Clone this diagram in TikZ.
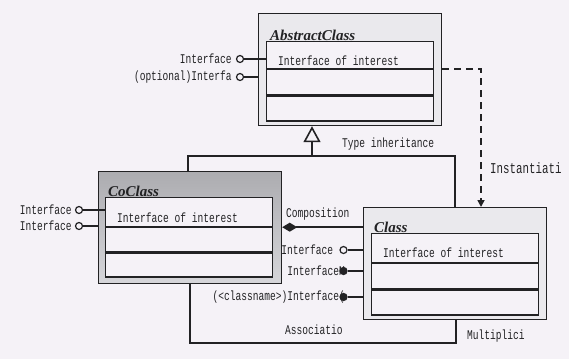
\documentclass[tikz,border=0pt]{standalone}
\usepackage{fontspec}
\setmainfont{Liberation Serif}
\setmonofont{Liberation Mono}[FakeStretch=0.72]
\usetikzlibrary{arrows.meta,positioning}
\definecolor{paper}{RGB}{245,242,247}
\definecolor{ink}{RGB}{34,34,36}
\definecolor{boxgray}{RGB}{234,233,237}
\definecolor{cogray}{RGB}{172,172,176}
\definecolor{colight}{RGB}{214,214,218}

\begin{document}
\begin{tikzpicture}[x=1pt, y=-1pt, ink, font=\ttfamily\fontsize{13.3}{13.3}\selectfont,
    shell/.style={draw=ink, line width=1.2pt, anchor=north west, inner sep=0pt,
                  minimum width=183pt, minimum height=112pt},
    slot/.style={draw=ink, line width=1.2pt, fill=paper, anchor=north west,
                 inner sep=0pt, minimum width=167pt},
    cname/.style={font=\rmfamily\bfseries\itshape\fontsize{15}{15}\selectfont,
                  anchor=base west, inner sep=0pt},
    oper/.style={anchor=base west, inner sep=0pt},
    lbl/.style={inner sep=0pt},
    lolli/.style={circle, draw=ink, line width=1.2pt, fill=paper, inner sep=0pt, minimum size=7pt},
    sock/.style={lolli, fill=ink},
    wire/.style={line width=1.6pt}]
  \fill[paper] (0,0) rectangle (569,359);
  \useasboundingbox (0,0) rectangle (569,359);

  % AbstractClass
  \node[shell, fill=boxgray] (absbox) at (258,13) {};
  \node[slot, minimum height=27pt] (abs1) at (266,41) {};
  \node[slot, minimum height=25pt, below=0pt of abs1] (abs2) {};
  \node[slot, minimum height=25pt, below=0pt of abs2] (abs3) {};
  \node[cname] (absname) at (270,40) {AbstractClass};
  \node[oper] (absop) at (278,65) {Interface of interest};

  % CoClass
  \node[shell, top color=cogray, bottom color=colight] (cobox) at (98,171) {};
  \node[slot, minimum height=29pt] (co1) at (105,197) {};
  \node[slot, minimum height=24pt, below=0pt of co1] (co2) {};
  \node[slot, minimum height=24pt, below=0pt of co2] (co3) {};
  \node[cname] (coname) at (108,196) {CoClass};
  \node[oper] (coop) at (117,222) {Interface of interest};

  % Class
  \node[shell, fill=boxgray] (clsbox) at (363,207) {};
  \node[slot, minimum height=29pt] (cls1) at (371,233) {};
  \node[slot, minimum height=25pt, below=0pt of cls1] (cls2) {};
  \node[slot, minimum height=25pt, below=0pt of cls2] (cls3) {};
  \node[cname] (clsname) at (374,232) {Class};
  \node[oper] (clsop) at (383,257) {Interface of interest};

  % interfaces
  \node[lolli] (ai1) at (240,59) {};
  \node[lbl, left=4pt of ai1] (ai1t) {Interface};
  \draw[wire] (ai1) -- (ai1 -| abs1.west);
  \node[lolli] (ai2) at (240,77) {};
  \node[lbl, left=4pt of ai2] (ai2t) {(optional)Interfa};
  \draw[wire] (ai2) -- (ai2 -| absbox.west);

  \node[lolli] (ci1) at (79,210) {};
  \node[lbl, left=3pt of ci1] (ci1t) {Interface};
  \draw[wire] (ci1) -- (ci1 -| co1.west);
  \node[lolli] (ci2) at (79,226) {};
  \node[lbl, left=3pt of ci2] (ci2t) {Interface};
  \draw[wire] (ci2) -- (ci2 -| cobox.west);

  \node[lolli] (ki1) at (343.5,250) {};
  \node[lbl, left=6pt of ki1] (ki1t) {Interface};
  \draw[wire] (ki1) -- (ki1 -| clsbox.west);
  \node[lbl, anchor=east] (ki2t) at (345,271) {InterfaceM};
  \node[sock] (ki2) at (343.5,271) {};
  \draw[wire] (ki2) -- (ki2 -| clsbox.west);
  \node[lbl, anchor=east] (ki3t) at (345,297) {(<classname>)Interface(};
  \node[sock] (ki3) at (343.5,297) {};
  \draw[wire] (ki3) -- (ki3 -| clsbox.west);

  % relations
  \draw[wire, {Diamond[length=15pt,width=9pt]}-] (co1.south -| cobox.east) -- (co1.south -| clsbox.west);
  \node[lbl, anchor=base west] (complbl) at (286,217) {Composition};

  \coordinate (inhJ) at (312,156);
  \coordinate (busL) at (188,156);
  \coordinate (busR) at (455,156);
  \draw[wire, -{Triangle[open, length=16pt, width=17pt]}] (inhJ) -- (inhJ |- absbox.south);
  \draw[wire] (busL |- cobox.north) -- (busL) -- (busR) -- (busR |- clsbox.north);
  \node[lbl, anchor=base west] (inhlbl) at (342,147) {Type inheritance};

  \coordinate (instC) at (481,69);
  \draw[wire, dash pattern=on 7pt off 5pt, -{Triangle[length=7pt,width=7pt]}]
    (instC -| absbox.east) -- (instC) -- (instC |- clsbox.north);
  \node[lbl, anchor=base west, font=\ttfamily\fontsize{15}{15}\selectfont] (instlbl) at (490,173) {Instantiati};

  \coordinate (asL) at (190,343);
  \coordinate (asR) at (456,343);
  \draw[wire] (asL |- cobox.south) -- (asL) -- (asR) -- (asR |- clsbox.south);
  \node[lbl, anchor=base west] (aslbl) at (285,334) {Associatio};
  \node[lbl, anchor=base west] (mullbl) at (467,339) {Multiplici};
\end{tikzpicture}
\end{document}
